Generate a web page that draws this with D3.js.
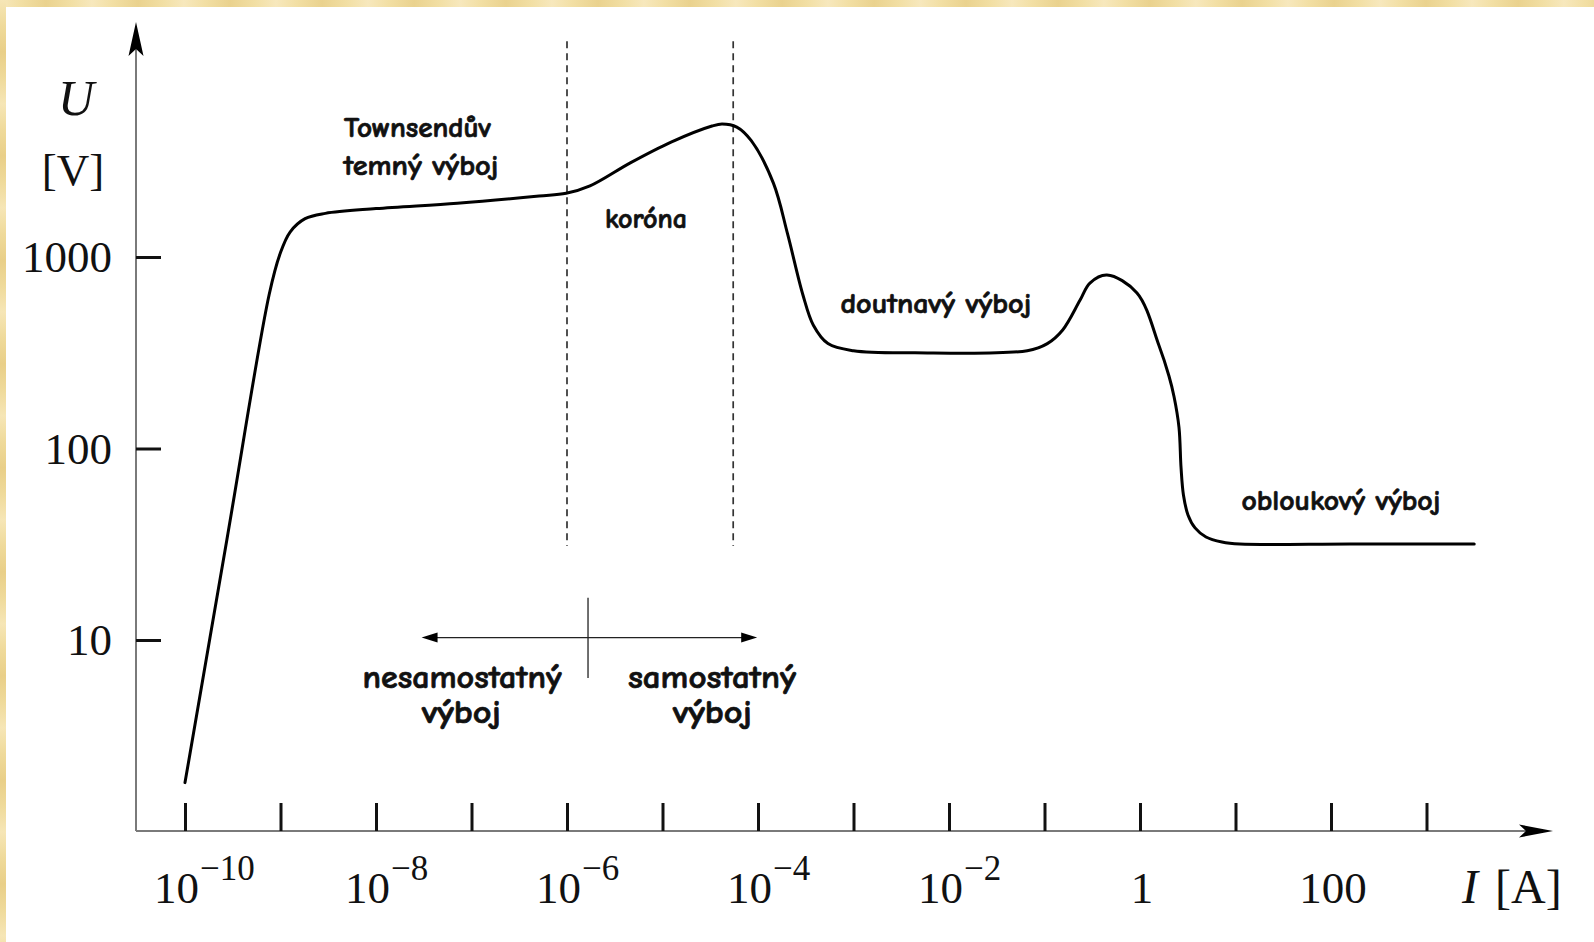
<!DOCTYPE html>
<html>
<head>
<meta charset="utf-8">
<script src="https://cdn.jsdelivr.net/npm/d3@7"></script>
<style>
  html, body { margin: 0; padding: 0; background: #fff; }
  svg { display: block; }
</style>
</head>
<body>
<svg id="chart" width="1594" height="942"></svg>
<script>
// ---------------- DATA ----------------
const currentA = [1e-10, 2.75e-10, 7.6e-10, 9.9e-10, 1.26e-9, 1.81e-9, 2.95e-9, 1.0e-8, 7.1e-8, 5.1e-7, 9.8e-7,
  1.74e-6, 4.6e-6, 1.23e-5, 3.3e-5, 4.2e-5, 6.0e-5, 8.5e-5, 1.45e-4, 2.04e-4, 2.95e-4,
  3.8e-4, 5.4e-4, 1.0e-3, 4.4e-3, 0.066, 0.107, 0.155, 0.236, 0.299, 0.451,
  0.93, 1.58, 2.01, 2.27, 2.56, 2.69, 2.85, 3.18, 3.77, 4.91, 7.22, 11.1, 158, 3160];
const voltageV = [1.8, 33.6, 635, 1040, 1350, 1585, 1690, 1790, 1910, 2080, 2150,
  2350, 3100, 3980, 4830, 4950, 4770, 4050, 2430, 1320, 635,
  440, 353, 324, 316, 324, 353, 416, 596, 731, 805,
  649, 345, 239, 187, 129, 79.4, 57.2, 45.0, 38.5, 34.5, 32.5, 31.7, 31.7, 31.7];

const xTickValues = [1e-10, 1e-9, 1e-8, 1e-7, 1e-6, 1e-5, 1e-4, 1e-3, 1e-2, 1e-1, 1, 10, 100, 1000];
const xLabelValues = [1e-10, 1e-8, 1e-6, 1e-4, 1e-2, 1, 100];
const xLabelBase = ["10", "10", "10", "10", "10", "1", "100"];
const xLabelExp = ["\u221210", "\u22128", "\u22126", "\u22124", "\u22122", "", ""];

const yTickValues = [10, 100, 1000];
const yTickLabels = ["10", "100", "1000"];

const dashedI = [1e-6, 5.5e-5];          // region borders (korona)
const dashedU = [31, 13400];              // vertical extent of dashed lines

const regionLabels = [
  { lines: ["Townsendův", "temný výboj"], I: [2.72e-8, 2.96e-8], U: [4233, 2680], w: [147, 155] },
  { lines: ["koróna"], I: [6.7e-6], U: [1416], w: [82] },
  { lines: ["doutnavý výboj"], I: [7.3e-3], U: [510], w: [191] },
  { lines: ["obloukový výboj"], I: [127], U: [47.5], w: [199] }
];
const modeLabels = [
  { lines: ["nesamostatný", "výboj"], I: [7.96e-8, 7.85e-8], U: [5.61, 3.69], w: [199, 79] },
  { lines: ["samostatný", "výboj"], I: [3.3e-5, 3.33e-5], U: [5.61, 3.69], w: [168, 79] }
];
const modeDivideI = 1.66e-6;
const modeArrowI = [3.0e-8, 9.8e-5];
const modeArrowU = 10.3;
const modeDivideU = [6.33, 16.6];

// ---------------- SETUP ----------------
const svg = d3.select("#chart");
const W = 1594, H = 942;

const x = d3.scaleLog().domain([1e-10, 1e3]).range([185, 1426.5]);
const y = d3.scaleLog().domain([10, 1000]).range([640, 257]);

const axisX0 = 136, axisY0 = 831;

// background frame
const defs = svg.append("defs");
const gTop = defs.append("linearGradient").attr("id", "frameH")
  .attr("gradientUnits", "userSpaceOnUse").attr("x1", 0).attr("x2", 46).attr("y1", 0).attr("y2", 0)
  .attr("spreadMethod", "reflect");
gTop.append("stop").attr("offset", "0%").attr("stop-color", "#f7e8bd");
gTop.append("stop").attr("offset", "45%").attr("stop-color", "#f2dfa4");
gTop.append("stop").attr("offset", "100%").attr("stop-color", "#ead28e");
const gLeft = defs.append("linearGradient").attr("id", "frameV")
  .attr("gradientUnits", "userSpaceOnUse").attr("x1", 0).attr("x2", 0).attr("y1", 0).attr("y2", 52)
  .attr("spreadMethod", "reflect");
gLeft.append("stop").attr("offset", "0%").attr("stop-color", "#f6e6b6");
gLeft.append("stop").attr("offset", "50%").attr("stop-color", "#efda9a");
gLeft.append("stop").attr("offset", "100%").attr("stop-color", "#e9cf88");

svg.append("rect").attr("x", 0).attr("y", 0).attr("width", W).attr("height", 7).attr("fill", "url(#frameH)");
svg.append("rect").attr("x", 0).attr("y", 0).attr("width", 6).attr("height", H).attr("fill", "url(#frameV)");
svg.append("rect").attr("x", 6).attr("y", 7).attr("width", W - 6).attr("height", H - 7).attr("fill", "#ffffff");

// ---------------- AXES ----------------
const axisColor = "#7a7a7a";
svg.append("line").attr("x1", axisX0).attr("x2", axisX0).attr("y1", 48).attr("y2", axisY0)
  .attr("stroke", axisColor).attr("stroke-width", 2);
svg.append("path")
  .attr("d", `M${axisX0},22 L${axisX0 + 7.5},56 L${axisX0},49 L${axisX0 - 7.5},56 Z`)
  .attr("fill", "#000");
svg.append("line").attr("x1", axisX0).attr("x2", 1526).attr("y1", axisY0).attr("y2", axisY0)
  .attr("stroke", axisColor).attr("stroke-width", 2);
svg.append("path")
  .attr("d", `M1553,${axisY0} L1519,${axisY0 - 6.5} L1526,${axisY0} L1519,${axisY0 + 6.5} Z`)
  .attr("fill", "#000");

const xAxis = d3.axisBottom(x).tickValues(xTickValues).tickSize(-28).tickFormat("");
const gx = svg.append("g").attr("transform", `translate(0,${axisY0})`).call(xAxis);
gx.select(".domain").remove();
gx.selectAll(".tick line").attr("stroke", "#111").attr("stroke-width", 3);

const yAxis = d3.axisRight(y).tickValues(yTickValues).tickSize(25).tickFormat("");
const gy = svg.append("g").attr("transform", `translate(${axisX0},0)`).call(yAxis);
gy.select(".domain").remove();
gy.selectAll(".tick line").attr("stroke", "#111").attr("stroke-width", 3);

const serif = "'Liberation Serif', 'Times New Roman', serif";

svg.append("g").selectAll("text").data(yTickValues).join("text")
  .attr("x", 112).attr("y", d => y(d) + 15)
  .attr("text-anchor", "end")
  .attr("font-family", serif).attr("font-size", 45).attr("fill", "#111")
  .text((d, i) => yTickLabels[i]);

const xl = svg.append("g").selectAll("text").data(xLabelValues).join("text")
  .attr("x", (d, i) => xLabelExp[i] ? x(d) - 31 : x(d) + 2)
  .attr("y", 903)
  .attr("text-anchor", (d, i) => xLabelExp[i] ? "start" : "middle")
  .attr("font-family", serif).attr("font-size", 45).attr("fill", "#111");
xl.append("tspan").text((d, i) => xLabelBase[i]);
xl.filter((d, i) => xLabelExp[i]).append("tspan")
  .attr("font-size", 35).attr("dy", -23).attr("dx", 1)
  .text(d => xLabelExp[xLabelValues.indexOf(d)]);

const xt = svg.append("text").attr("x", 1462).attr("y", 903)
  .attr("font-family", serif).attr("font-size", 48).attr("fill", "#111");
xt.append("tspan").attr("font-style", "italic").text("I");
xt.append("tspan").attr("dx", 17).text("[A]");

svg.append("text").attr("x", 76).attr("y", 115).attr("text-anchor", "middle")
  .attr("font-family", serif).attr("font-size", 50).attr("font-style", "italic").attr("fill", "#111")
  .text("U");
svg.append("text").attr("x", 73).attr("y", 185).attr("text-anchor", "middle")
  .attr("font-family", serif).attr("font-size", 45).attr("fill", "#111")
  .text("[V]");

// ---------------- DASHED REGION LINES ----------------
svg.append("g").selectAll("line").data(dashedI).join("line")
  .attr("x1", d => x(d)).attr("x2", d => x(d))
  .attr("y1", y(dashedU[1])).attr("y2", y(dashedU[0]))
  .attr("stroke", "#333").attr("stroke-width", 1.7)
  .attr("stroke-dasharray", "7,5");

// ---------------- CURVE ----------------
const pts = currentA.map((c, i) => [c, voltageV[i]]);
const line = d3.line().x(d => x(d[0])).y(d => y(d[1])).curve(d3.curveCatmullRom.alpha(0.5));
svg.append("path").datum(pts).attr("d", line)
  .attr("fill", "none").attr("stroke", "#000").attr("stroke-width", 3)
  .attr("stroke-linejoin", "round").attr("stroke-linecap", "round");

// ---------------- MODE ARROWS ----------------
const ay = y(modeArrowU);
const ax1 = x(modeArrowI[0]), ax2 = x(modeArrowI[1]);
svg.append("line").attr("x1", ax1 + 10).attr("x2", ax2 - 10).attr("y1", ay).attr("y2", ay)
  .attr("stroke", "#222").attr("stroke-width", 1.3);
svg.append("path").attr("d", `M${ax1},${ay} L${ax1 + 16},${ay - 5} L${ax1 + 16},${ay + 5} Z`).attr("fill", "#000");
svg.append("path").attr("d", `M${ax2},${ay} L${ax2 - 16},${ay - 5} L${ax2 - 16},${ay + 5} Z`).attr("fill", "#000");
svg.append("line").attr("x1", x(modeDivideI)).attr("x2", x(modeDivideI))
  .attr("y1", y(modeDivideU[1])).attr("y2", y(modeDivideU[0]))
  .attr("stroke", "#222").attr("stroke-width", 1.3);

// ---------------- TEXT LABELS ----------------
const labelFont = "'Comic Sans MS', 'Comic Neue', 'DejaVu Sans', sans-serif";
function drawLabels(list, size) {
  list.forEach(lab => {
    lab.lines.forEach((t, k) => {
      svg.append("text")
        .attr("x", x(lab.I[k])).attr("y", y(lab.U[k]))
        .attr("text-anchor", "middle")
        .attr("font-family", labelFont).attr("font-weight", "bold")
        .attr("font-size", size).attr("fill", "#111")
        .attr("stroke", "#111").attr("stroke-width", 0.7)
        .attr("textLength", lab.w[k]).attr("lengthAdjust", "spacingAndGlyphs")
        .text(t);
    });
  });
}
drawLabels(regionLabels, 28);
drawLabels(modeLabels, 32);
</script>
</body>
</html>
